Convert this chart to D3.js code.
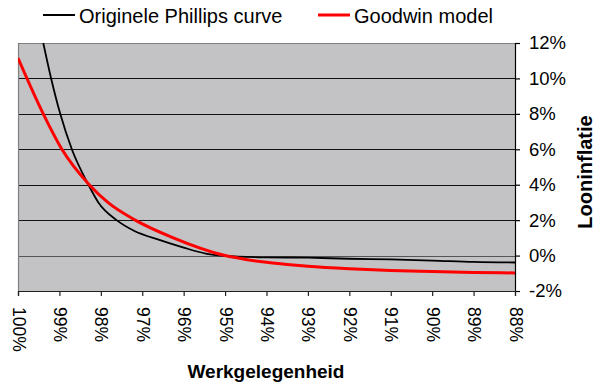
<!DOCTYPE html>
<html>
<head>
<meta charset="utf-8">
<title>Phillips curve vs Goodwin</title>
<script src="https://d3js.org/d3.v7.min.js"></script>
<style>
  body { margin: 0; background: #fff; }
  text { font-family: Arial, "Liberation Sans", sans-serif; fill: #000; }
</style>
</head>
<body>
<script>
// werkgelegenheid (%) en looninflatie (%)
var phillipsEmp = [99.39, 99.2, 98.98, 98.7, 98.3, 98.06, 97.62, 97.2, 96.57, 96.0, 95.44, 95.0, 94.0, 93.0, 92.0, 91.0, 90.0, 89.0, 88.0];
var phillipsInf = [12.0, 10.0, 8.0, 6.0, 4.0, 3.0, 2.0, 1.4, 0.87, 0.45, 0.1, -0.02, -0.1, -0.12, -0.18, -0.22, -0.28, -0.36, -0.39];

var goodwinEmp = [100, 99.39, 98.94, 98.28, 97.83, 97.17, 96.25, 95.0, 94.5, 94.0, 93.5, 93.0, 92.0, 91.0, 90.0, 89.0, 88.0];
var goodwinInf = [11.15, 8.0, 6.0, 4.0, 3.0, 2.0, 1.0, 0.0, -0.22, -0.38, -0.5, -0.6, -0.74, -0.84, -0.9, -0.95, -0.98];

var xTicks = [100, 99, 98, 97, 96, 95, 94, 93, 92, 91, 90, 89, 88];
var yTicks = [-2, 0, 2, 4, 6, 8, 10, 12];
var seriesNames = ["Originele Phillips curve", "Goodwin model"];
var seriesColors = ["#000000", "#ff0000"];

var W = 599, H = 390;
var L = 18, R = 515, T = 43, B = 291;

var svg = d3.select("body").append("svg")
    .attr("width", W).attr("height", H);

var x = d3.scaleLinear().domain([100, 88]).range([L, R]);
var y = d3.scaleLinear().domain([-2, 12]).range([B, T]);

svg.append("rect")
    .attr("x", L).attr("y", T)
    .attr("width", R - L).attr("height", B - T)
    .attr("fill", "#c3c2c5");

// rasterlijnen
svg.selectAll(".grid")
    .data(yTicks.filter(function(d) { return d > -2 && d < 12; }))
    .enter().append("line")
    .attr("class", "grid")
    .attr("x1", L).attr("x2", R)
    .attr("y1", function(d) { return Math.round(y(d)) + 0.5; })
    .attr("y2", function(d) { return Math.round(y(d)) + 0.5; })
    .attr("stroke", function(d) { return d === 0 ? "#555" : "#111"; })
    .attr("stroke-width", 1.2);

// rand
svg.append("path")
    .attr("d", "M" + (L + 0.5) + "," + B + "V" + (T + 0.5) + "H" + R)
    .attr("fill", "none").attr("stroke", "#808080").attr("stroke-width", 1.2);

svg.append("clipPath").attr("id", "clip")
    .append("rect").attr("x", L).attr("y", T).attr("width", R - L).attr("height", B - T);

var line = d3.line()
    .x(function(d) { return x(d[0]); })
    .y(function(d) { return y(d[1]); })
    .curve(d3.curveMonotoneX);

var phillips = phillipsEmp.map(function(e, i) { return [e, phillipsInf[i]]; });
var goodwin = goodwinEmp.map(function(e, i) { return [e, goodwinInf[i]]; });

var g = svg.append("g").attr("clip-path", "url(#clip)");
g.append("path").datum(phillips)
    .attr("d", line).attr("fill", "none")
    .attr("stroke", seriesColors[0]).attr("stroke-width", 1.8);
g.append("path").datum(goodwin)
    .attr("d", line).attr("fill", "none")
    .attr("stroke", seriesColors[1]).attr("stroke-width", 3);

// rechter as
var yAxis = d3.axisRight(y).tickValues(yTicks).tickSize(5).tickPadding(9)
    .tickFormat(function(d) { return d + "%"; });
var ya = svg.append("g").attr("transform", "translate(" + R + ",0)").call(yAxis);
ya.select(".domain").attr("stroke", "#000").attr("stroke-width", 1.2);
ya.selectAll(".tick line").attr("stroke", "#000").attr("stroke-width", 1.2);
ya.selectAll("text").style("font-size", "18.5px").attr("fill", "#000");

// onderste as
var xAxis = d3.axisBottom(x).tickValues(xTicks).tickSize(5)
    .tickFormat(function(d) { return d + "%"; });
var xa = svg.append("g").attr("transform", "translate(0," + B + ")").call(xAxis);
xa.select(".domain").attr("stroke", "#222").attr("stroke-width", 1.2);
xa.selectAll(".tick line").attr("stroke", "#222").attr("stroke-width", 1.2);
xa.selectAll("text")
    .style("font-size", "17.5px").attr("fill", "#000")
    .attr("y", 0).attr("x", 0).attr("dy", null)
    .attr("text-anchor", "start")
    .attr("dominant-baseline", "central")
    .attr("transform", "translate(0,16) rotate(90)");

// as-titels
svg.append("text")
    .attr("x", 266).attr("y", 378)
    .attr("text-anchor", "middle")
    .style("font-size", "19px").style("font-weight", "bold")
    .text("Werkgelegenheid");
svg.append("text")
    .attr("transform", "translate(592,172) rotate(-90)")
    .attr("text-anchor", "middle")
    .style("font-size", "20px").style("font-weight", "bold")
    .text("Looninflatie");

// legenda
var legendX = [43, 318];
var lg = svg.selectAll(".legend").data(seriesNames).enter().append("g")
    .attr("class", "legend")
    .attr("transform", function(d, i) { return "translate(" + legendX[i] + ",15)"; });
lg.append("line")
    .attr("x1", 0).attr("x2", 32).attr("y1", 0).attr("y2", 0)
    .attr("stroke", function(d, i) { return seriesColors[i]; })
    .attr("stroke-width", function(d, i) { return i === 0 ? 2 : 3; });
lg.append("text")
    .attr("x", 36).attr("y", 8)
    .style("font-size", "20px")
    .text(function(d) { return d; });
</script>
</body>
</html>
